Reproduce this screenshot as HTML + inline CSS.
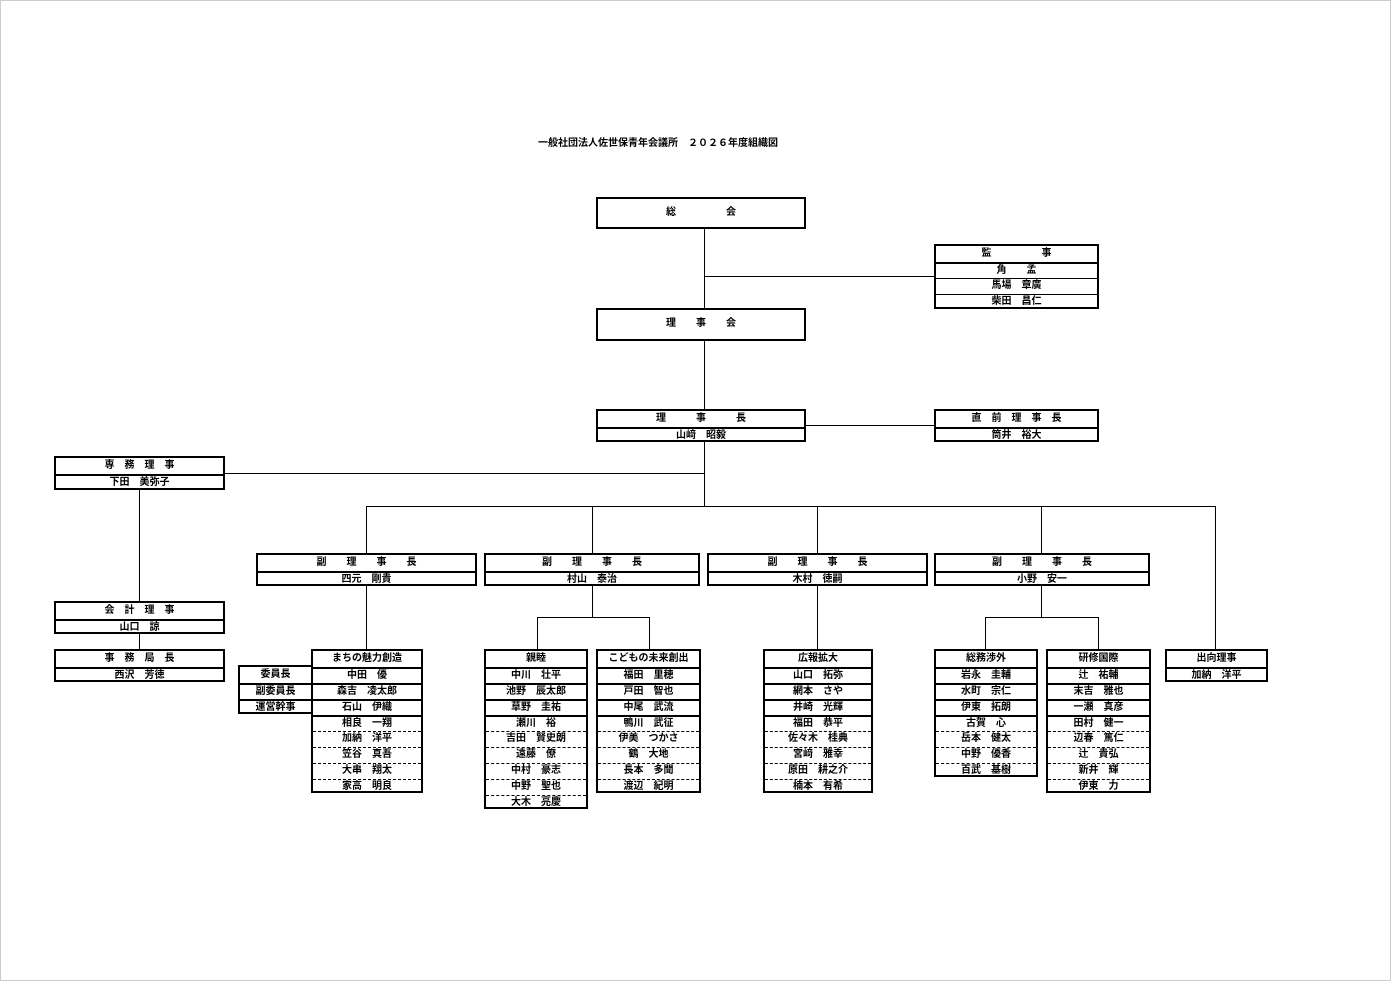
<!DOCTYPE html>
<html><head><meta charset="utf-8"><style>
body{margin:0;background:#fff;}
#p{position:relative;width:1391px;height:981px;background:#fff;overflow:hidden;font-family:"Liberation Sans","Noto Sans CJK JP",sans-serif;font-weight:bold;font-size:10px;color:#000;}
#fr{position:absolute;left:0;top:0;width:1391px;height:981px;border:1px solid #ccc;box-sizing:border-box;}
.b{position:absolute;border:2px solid #000;box-sizing:border-box;background:#fff;}
.r{height:16px;line-height:15px;text-align:center;box-sizing:border-box;white-space:pre;}
.r+.r{border-top:2px solid #000;line-height:13px;}
.r.d{border-top:1px dashed #000;line-height:14px;}
.big{line-height:28px;text-align:center;white-space:pre;}
.h{position:absolute;height:1px;background:#000;}
.v{position:absolute;width:1px;background:#000;}
</style></head><body><div id="p"><div id="fr"></div>
<div style="position:absolute;left:538px;top:134px;font-size:10px;white-space:pre;">一般社団法人佐世保青年会議所　２０２６年度組織図</div>

<div class="v" style="left:704px;top:228px;height:278px"></div>
<div class="h" style="left:704px;top:276px;width:230px"></div>
<div class="h" style="left:805px;top:425px;width:129px"></div>
<div class="h" style="left:224px;top:473px;width:480px"></div>
<div class="h" style="left:366px;top:506px;width:850px"></div>
<div class="v" style="left:366px;top:506px;height:47px"></div>
<div class="v" style="left:592px;top:506px;height:47px"></div>
<div class="v" style="left:817px;top:506px;height:47px"></div>
<div class="v" style="left:1041px;top:506px;height:47px"></div>
<div class="v" style="left:1215px;top:506px;height:143px"></div>
<div class="v" style="left:139px;top:489px;height:160px"></div>
<div class="v" style="left:366px;top:585px;height:64px"></div>
<div class="v" style="left:592px;top:585px;height:32px"></div>
<div class="h" style="left:537px;top:617px;width:112px"></div>
<div class="v" style="left:537px;top:617px;height:32px"></div>
<div class="v" style="left:649px;top:617px;height:32px"></div>
<div class="v" style="left:817px;top:585px;height:64px"></div>
<div class="v" style="left:1041px;top:585px;height:32px"></div>
<div class="h" style="left:985px;top:617px;width:113px"></div>
<div class="v" style="left:985px;top:617px;height:32px"></div>
<div class="v" style="left:1098px;top:617px;height:32px"></div>

<div class="b" style="left:596px;top:197px;width:210px;height:32px"><div class="big">総　　　　　会</div></div>
<div class="b" style="left:596px;top:308px;width:210px;height:33px"><div class="big">理　　事　　会</div></div>
<div class="b" style="left:934px;top:244px;width:165px;height:65px"><div class="r">監　　　　　事</div><div class="r">角　　孟</div><div class="r" style="border-top-width:1px">馬場　章廣</div><div class="r" style="border-top-width:1px">柴田　昌仁</div></div>
<div class="b" style="left:596px;top:409px;width:210px;height:33px"><div class="r">理　　　事　　　長</div><div class="r">山﨑　昭毅</div></div>
<div class="b" style="left:934px;top:409px;width:165px;height:33px"><div class="r">直　前　理　事　長</div><div class="r">筒井　裕大</div></div>
<div class="b" style="left:54px;top:456px;width:171px;height:34px"><div class="r">専　務　理　事</div><div class="r">下田　美弥子</div></div>
<div class="b" style="left:54px;top:601px;width:171px;height:33px"><div class="r">会　計　理　事</div><div class="r">山口　諒</div></div>
<div class="b" style="left:54px;top:649px;width:171px;height:33px"><div class="r">事　務　局　長</div><div class="r">西沢　芳徳</div></div>

<div class="b" style="left:256px;top:553px;width:221px;height:33px"><div class="r">副　　理　　事　　長</div><div class="r">四元　剛貴</div></div>
<div class="b" style="left:484px;top:553px;width:216px;height:33px"><div class="r">副　　理　　事　　長</div><div class="r">村山　泰治</div></div>
<div class="b" style="left:707px;top:553px;width:221px;height:33px"><div class="r">副　　理　　事　　長</div><div class="r">木村　徳嗣</div></div>
<div class="b" style="left:934px;top:553px;width:216px;height:33px"><div class="r">副　　理　　事　　長</div><div class="r">小野　安一</div></div>

<div class="b" style="left:238px;top:665px;width:75px;height:49px"><div class="r">委員長</div><div class="r">副委員長</div><div class="r">運営幹事</div></div>
<div class="b" style="left:311px;top:649px;width:112px;height:144px"><div class="r">まちの魅力創造</div><div class="r">中田　優</div><div class="r">森吉　凌太郎</div><div class="r">石山　伊織</div><div class="r">相良　一翔</div><div class="r d">加納　洋平</div><div class="r d">笠谷　真吾</div><div class="r d">大串　翔太</div><div class="r d">家高　明良</div></div>
<div class="b" style="left:484px;top:649px;width:104px;height:160px"><div class="r">親睦</div><div class="r">中川　壮平</div><div class="r">池野　辰太郎</div><div class="r">草野　圭祐</div><div class="r">瀬川　裕</div><div class="r d">吉田　賢史朗</div><div class="r d">遠藤　僚</div><div class="r d">中村　豪志</div><div class="r d">中野　聖也</div><div class="r d">大木　亮慶</div></div>
<div class="b" style="left:596px;top:649px;width:105px;height:144px"><div class="r">こどもの未来創出</div><div class="r">福田　里穂</div><div class="r">戸田　智也</div><div class="r">中尾　武流</div><div class="r">鴨川　武征</div><div class="r d">伊美　つかさ</div><div class="r d">鶴　大地</div><div class="r d">長本　多聞</div><div class="r d">渡辺　紀明</div></div>
<div class="b" style="left:763px;top:649px;width:110px;height:144px"><div class="r">広報拡大</div><div class="r">山口　拓弥</div><div class="r">網本　さや</div><div class="r">井崎　光輝</div><div class="r">福田　恭平</div><div class="r d">佐々木　桂典</div><div class="r d">宮﨑　雅幸</div><div class="r d">原田　耕之介</div><div class="r d">楠本　有希</div></div>
<div class="b" style="left:934px;top:649px;width:104px;height:128px"><div class="r">総務渉外</div><div class="r">岩永　圭輔</div><div class="r">水町　宗仁</div><div class="r">伊東　拓朗</div><div class="r">古賀　心</div><div class="r d">岳本　健太</div><div class="r d">中野　優香</div><div class="r d">百武　基樹</div></div>
<div class="b" style="left:1046px;top:649px;width:105px;height:144px"><div class="r">研修国際</div><div class="r">辻　祐輔</div><div class="r">末吉　雅也</div><div class="r">一瀬　真彦</div><div class="r">田村　健一</div><div class="r d">辺春　篤仁</div><div class="r d">辻　貴弘</div><div class="r d">新井　輝</div><div class="r d">伊東　力</div></div>
<div class="b" style="left:1165px;top:649px;width:103px;height:33px"><div class="r">出向理事</div><div class="r">加納　洋平</div></div>
</div></body></html>
